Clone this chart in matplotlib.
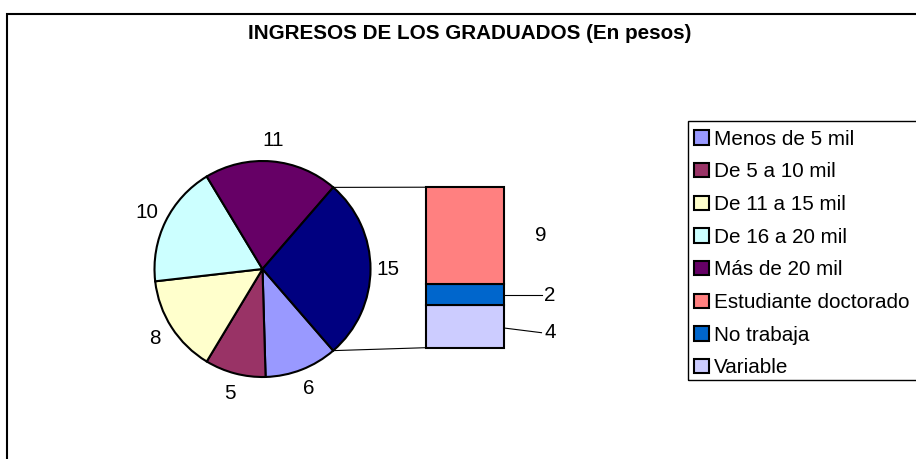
import matplotlib
matplotlib.use('Agg')
import matplotlib.pyplot as plt
from matplotlib.patches import Patch, Rectangle
import numpy as np

plt.rcParams['font.family'] = ['Liberation Sans', 'DejaVu Sans']

# datos
titulo = 'INGRESOS DE LOS GRADUADOS (En pesos)'
pie_nombres = ['Menos de 5 mil', 'De 5 a 10 mil', 'De 11 a 15 mil', 'De 16 a 20 mil', 'Más de 20 mil']
pie_valores = [6, 5, 8, 10, 11]
bar_nombres = ['Estudiante doctorado', 'No trabaja', 'Variable']
bar_valores = [9, 2, 4]

pie_colores = ['#9999FF', '#993366', '#FFFFCC', '#CCFFFF', '#660066']
otro_color = '#000080'
bar_colores = ['#FF8080', '#0066CC', '#CCCCFF']

W, H = 916, 459
fs = 14.9

fig = plt.figure(figsize=(W / 100, H / 100), dpi=100)
ax = fig.add_axes([0, 0, 1, 1])

# pastel con la porcion "otro" centrada a la derecha
otro = sum(bar_valores)
valores = pie_valores + [otro]
total = sum(valores)
inicio = -otro / total * 180
cx, cy, r = 262.5, H - 269, 108

wedges, textos = ax.pie(valores, colors=pie_colores + [otro_color], startangle=inicio,
                        counterclock=False, center=(cx, cy), radius=r,
                        labels=[str(v) for v in valores], labeldistance=1.19,
                        wedgeprops=dict(edgecolor='black', linewidth=1.5),
                        textprops=dict(ha='center', va='center', fontsize=fs))
textos[-1].set_x(cx + r * 1.165)

# barra apilada
bx, bw = 464.85, 78.3
escala = 10.7
base = H - 347.7
abajo = base
centros = []
for nombre, v, c in list(zip(bar_nombres, bar_valores, bar_colores))[::-1]:
    ax.bar(bx, v * escala, width=bw, bottom=abajo, color=c, edgecolor='black', linewidth=1.5)
    centros.append(abajo + v * escala / 2)
    abajo += v * escala
centros = centros[::-1]

# lineas de conexion
w_otro = wedges[-1]
for ang, yb in [(w_otro.theta2, abajo), (w_otro.theta1, base)]:
    px = cx + r * np.cos(np.radians(ang))
    py = cy + r * np.sin(np.radians(ang))
    ax.plot([px, bx - bw / 2], [py, yb], color='black', linewidth=0.8)

# etiquetas de la barra (desplazamiento en pixeles, linea guia)
desfase = [0, -1.0, -6.4]
inicio_guia = [None, -1.0, -1.7]
for v, yc, d, g in zip(bar_valores, centros, desfase, inicio_guia):
    ty = yc + d
    if g is not None:
        ax.plot([bx + bw / 2, 541.5], [yc + g, ty], color='black', linewidth=0.8)
        ax.text(550, ty, str(v), ha='center', va='center', fontsize=fs)
    else:
        ax.text(541, ty, str(v), ha='center', va='center', fontsize=fs)

ax.set_xlim(0, W)
ax.set_ylim(0, H)
ax.set_aspect('equal')
ax.axis('off')

# titulo
fig.text(470 / W, 1 - 39.3 / H, titulo, ha='center', va='baseline', fontsize=fs, fontweight='bold')

# marco del grafico
fig.patches.append(Rectangle((6.5 / W, -0.1), 1.2, 1 - 13.5 / H + 0.1, transform=fig.transFigure,
                             fill=False, edgecolor='black', linewidth=1.5, figure=fig))
# marco de la leyenda
fig.patches.append(Rectangle((688 / W, 1 - 380 / H), 0.5, (380 - 121) / H, transform=fig.transFigure,
                             fill=False, edgecolor='black', linewidth=1.0, figure=fig))

handles = [Patch(facecolor=c, edgecolor='black', linewidth=1.5) for c in pie_colores + bar_colores]
fig.legend(handles, pie_nombres + bar_nombres, loc='upper left',
           bbox_to_anchor=(688 / W, 1 - 123.5 / H), frameon=False, fontsize=fs,
           borderaxespad=0, borderpad=0.3, handlelength=0.72, handleheight=0.7,
           handletextpad=0.25, labelspacing=0.66)

fig.savefig('out.png', dpi=100)
